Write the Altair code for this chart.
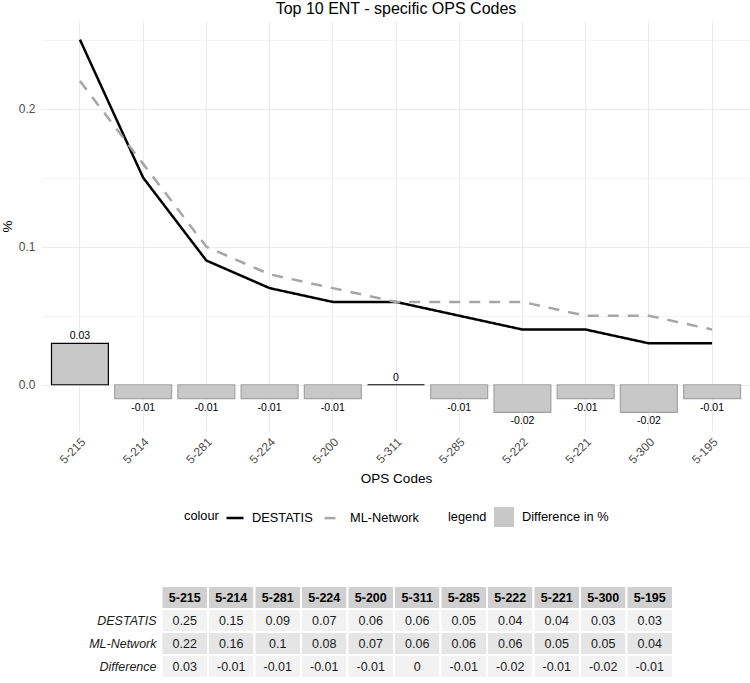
import altair as alt
import pandas as pd

# OPS codes and the share of each code in the two sources
codes = ["5-215", "5-214", "5-281", "5-224", "5-200", "5-311",
         "5-285", "5-222", "5-221", "5-300", "5-195"]
destatis = [0.25, 0.15, 0.09, 0.07, 0.06, 0.06, 0.05, 0.04, 0.04, 0.03, 0.03]
ml_network = [0.22, 0.16, 0.1, 0.08, 0.07, 0.06, 0.06, 0.06, 0.05, 0.05, 0.04]
difference = [0.03, -0.01, -0.01, -0.01, -0.01, 0, -0.01, -0.02, -0.01, -0.02, -0.01]

sources = ["DESTATIS", "ML-Network"]
table_rows = ["header", "DESTATIS", "ML-Network", "Difference"]

FONT = "Liberation Sans"


def fmt(v):
    return "%g" % v


lines_df = pd.DataFrame({
    "code": codes * 2,
    "value": destatis + ml_network,
    "source": [sources[0]] * len(codes) + [sources[1]] * len(codes),
})

diff_df = pd.DataFrame({
    "code": codes,
    "value": difference,
    "label": [fmt(v) for v in difference],
    "kind": ["Difference in %"] * len(codes),
})

# ---------------- main plot ----------------
W, H = 708, 410

x_enc = alt.X(
    "code:N", sort=codes,
    scale=alt.Scale(domain=codes, paddingInner=0.1, paddingOuter=0.15),
    axis=alt.Axis(
        title="OPS Codes", labelAngle=-45, labelFontSize=12, labelColor="#4d4d4d",
        domain=False, ticks=False, tickSize=0, labelPadding=5,
        grid=True, gridColor="#ebebeb", gridWidth=1.1,
        titleFontSize=13.5, titleFontWeight="normal", titleColor="black", titlePadding=6,
    ),
)

major_test = "abs(datum.value*10 - round(datum.value*10)) < 0.001"
y_scale = alt.Scale(domain=[-0.0335, 0.2635], nice=False, zero=False)
y_axis = alt.Axis(
    title="%", values=[0, 0.05, 0.1, 0.15, 0.2, 0.25],
    labelExpr=major_test + " ? format(datum.value, '.1f') : ''",
    grid=True, gridColor="#ebebeb",
    gridWidth={"condition": {"test": major_test, "value": 1.1}, "value": 0.6},
    domain=False, ticks=False, tickSize=0, labelPadding=7,
    labelFontSize=12, labelColor="#4d4d4d",
    titleFontSize=13.5, titleFontWeight="normal", titleColor="black", titlePadding=4,
)

bars = alt.Chart(diff_df).mark_bar(strokeWidth=1.2).encode(
    x=x_enc,
    y=alt.Y("value:Q", scale=y_scale, axis=y_axis),
    y2=alt.datum(0),
    fill=alt.Fill(
        "kind:N",
        scale=alt.Scale(range=["#c8c8c8"]),
        legend=alt.Legend(
            title="legend", orient="none", legendX=406, legendY=486,
            direction="horizontal", titleOrient="left", titlePadding=7,
            symbolType="square", symbolSize=400, symbolStrokeWidth=0,
            labelOffset=8, labelFontSize=12.8, titleFontSize=12.8,
            titleFontWeight="normal", titleColor="black", labelColor="black",
        ),
    ),
    stroke=alt.condition("datum.value >= 0", alt.value("black"), alt.value("#a3a3a3")),
)

labels_up = alt.Chart(diff_df).transform_filter("datum.value >= 0").mark_text(
    baseline="bottom", dy=-2, fontSize=10.5, color="black", font=FONT
).encode(x=x_enc, y=alt.Y("value:Q", scale=y_scale, axis=y_axis), text="label:N")

labels_down = alt.Chart(diff_df).transform_filter("datum.value < 0").mark_text(
    baseline="top", dy=4, fontSize=10.5, color="black", font=FONT
).encode(x=x_enc, y=alt.Y("value:Q", scale=y_scale, axis=y_axis), text="label:N")

line_legend = alt.Legend(
    title="colour", orient="none", legendX=142, legendY=487,
    direction="horizontal", titleOrient="left", titlePadding=6,
    symbolType="stroke", symbolSize=289, symbolStrokeWidth=2.5,
    labelOffset=7, columnPadding=6, labelFontSize=12.8, titleFontSize=12.8,
    titleFontWeight="normal", titleColor="black", labelColor="black",
)

lines = alt.Chart(lines_df).mark_line(strokeWidth=2.5).encode(
    x=x_enc,
    y=alt.Y("value:Q", scale=y_scale, axis=y_axis),
    color=alt.Color("source:N", scale=alt.Scale(domain=sources, range=["black", "#a6a6a6"]),
                    legend=line_legend),
    strokeDash=alt.StrokeDash("source:N", scale=alt.Scale(domain=sources, range=[[1, 0], [11, 9]]),
                              legend=line_legend),
)

main = alt.layer(bars, labels_up, labels_down, lines).properties(
    width=W, height=H,
    title=alt.TitleParams("Top 10 ENT - specific OPS Codes", fontSize=16, fontWeight="normal",
                          font=FONT, anchor="middle", frame="group", offset=4, color="black"),
)

# ---------------- value table ----------------
label_col = " "
cells = []
for i, c in enumerate(codes):
    cells.append({"col": c, "row": "header", "text": c})
    cells.append({"col": c, "row": "DESTATIS", "text": fmt(destatis[i])})
    cells.append({"col": c, "row": "ML-Network", "text": fmt(ml_network[i])})
    cells.append({"col": c, "row": "Difference", "text": fmt(difference[i])})
cells_df = pd.DataFrame(cells)
row_names_df = pd.DataFrame({"col": [label_col] * 3, "row": table_rows[1:], "text": table_rows[1:]})

col_scale = alt.Scale(domain=[label_col] + codes, range=[73, 631], paddingInner=0, paddingOuter=0)
tx = alt.X("col:N", sort=[label_col] + codes, axis=None, scale=col_scale)
ty = alt.Y("row:N", sort=table_rows, axis=None,
           scale=alt.Scale(domain=table_rows, paddingInner=0, paddingOuter=0))

cell_rects = alt.Chart(cells_df).mark_rect(stroke="white", strokeWidth=2).encode(
    x=tx, y=ty,
    fill=alt.Fill("row:N", legend=None,
                  scale=alt.Scale(domain=table_rows,
                                  range=["#d0d0d0", "#f2f2f2", "#e5e5e5", "#f2f2f2"])),
)
head_text = alt.Chart(cells_df).transform_filter("datum.row == 'header'").mark_text(
    fontSize=12.5, fontWeight="bold", font=FONT, color="black"
).encode(x=tx, y=ty, text="text:N")
body_text = alt.Chart(cells_df).transform_filter("datum.row != 'header'").mark_text(
    fontSize=12.5, font=FONT, color="#1a1a1a"
).encode(x=tx, y=ty, text="text:N")
row_text = alt.Chart(row_names_df).mark_text(
    fontSize=12.5, font=FONT, fontStyle="italic", align="right", dx=-5, color="#1a1a1a"
).encode(x=alt.X("col:N", sort=[label_col] + codes, axis=None, bandPosition=1, scale=col_scale),
         y=ty, text="text:N")

table = alt.layer(cell_rects, head_text, body_text, row_text).properties(width=W, height=92)

chart = alt.vconcat(main, table, spacing=58).resolve_scale(
    x="independent", y="independent", fill="independent"
).resolve_legend(fill="independent", color="independent", strokeDash="independent").properties(
    padding={"left": 0, "top": 1, "right": 0, "bottom": 0},
    background="white",
).configure_view(stroke=None).configure_axis(
    labelFont=FONT, titleFont=FONT
).configure_legend(labelFont=FONT, titleFont=FONT).configure_text(font=FONT)

chart.save("out.html", embed_options={"renderer": "svg", "actions": False})
